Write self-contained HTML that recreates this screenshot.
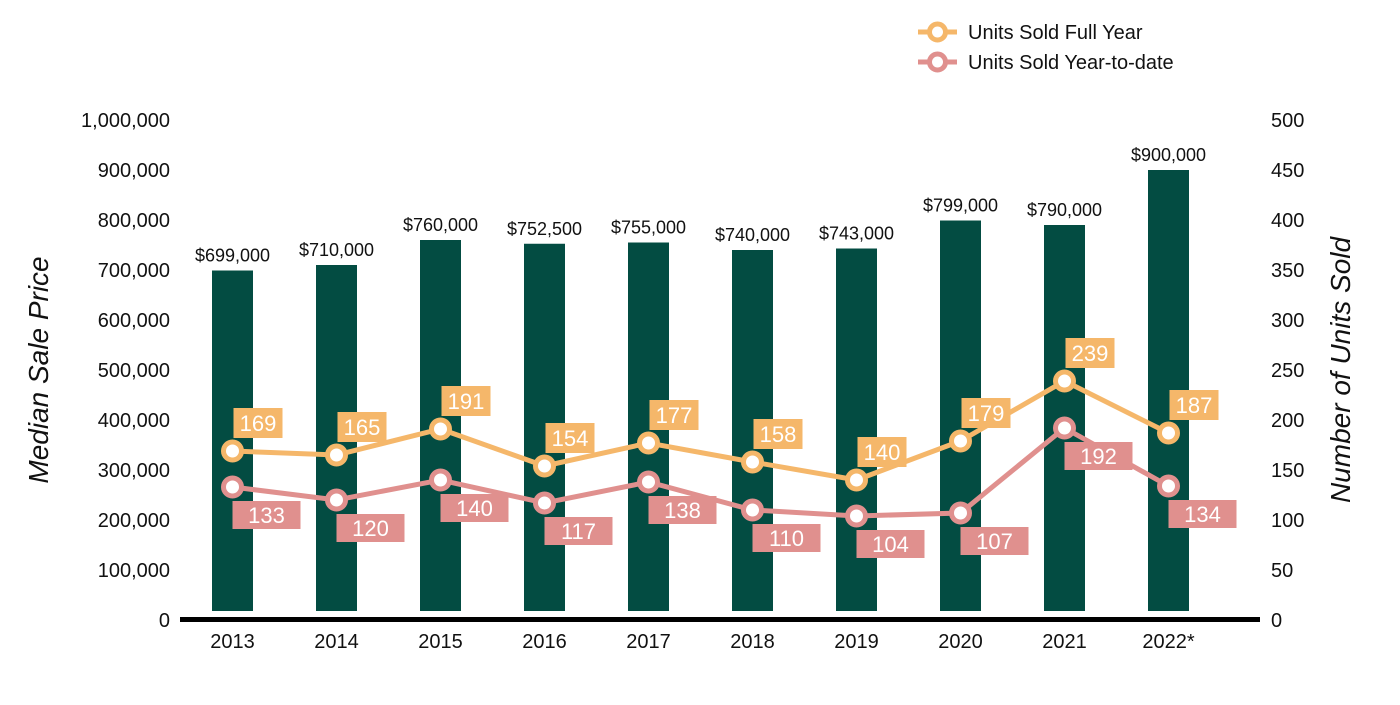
<!DOCTYPE html>
<html><head><meta charset="utf-8"><style>
body{margin:0;background:#fff}
svg{font-family:"Liberation Sans",Arial,sans-serif}
</style></head><body>
<svg id="c" width="1400" height="700" viewBox="0 0 1400 700">
<g id="g"></g>
</svg>
<script>
const categories=["2013","2014","2015","2016","2017","2018","2019","2020","2021","2022*"];
const prices=[699000,710000,760000,752500,755000,740000,743000,799000,790000,900000];
const priceLabels=["$699,000","$710,000","$760,000","$752,500","$755,000","$740,000","$743,000","$799,000","$790,000","$900,000"];
const fullYear=[169,165,191,154,177,158,140,179,239,187];
const ytd=[133,120,140,117,138,110,104,107,192,134];
const leftTicks=[0,100000,200000,300000,400000,500000,600000,700000,800000,900000,1000000];
const rightTicks=[0,50,100,150,200,250,300,350,400,450,500];
const NS="http://www.w3.org/2000/svg";
const g=document.getElementById('g');
function el(t,a,txt){const e=document.createElementNS(NS,t);for(const k in a)e.setAttribute(k,a[k]);if(txt!==undefined)e.textContent=txt;g.appendChild(e);return e;}
const y0=620,yTop=120;
const yL=v=>y0-(v/1000000)*(y0-yTop);
const yR=v=>y0-(v/500)*(y0-yTop);
const xC=i=>232.5+i*104;
const fmt=v=>v.toLocaleString('en-US');
leftTicks.forEach(v=>{const t=el('text',{x:170,y:yL(v)+7,'text-anchor':'end','font-size':20,fill:'#111'},fmt(v));

});
rightTicks.forEach(v=>{const t=el('text',{x:1271,y:yR(v)+7,'font-size':20,fill:'#111'},String(v));

});
let t=el('text',{x:0,y:0,transform:'translate(48,370) rotate(-90)','text-anchor':'middle','font-size':28,'font-style':'italic',fill:'#111'},'Median Sale Price');


t=el('text',{x:0,y:0,transform:'translate(1350,370) rotate(-90)','text-anchor':'middle','font-size':28,'font-style':'italic',fill:'#111'},'Number of Units Sold');


categories.forEach((c,i)=>{
 const b=el('rect',{x:xC(i)-20.5,y:yL(prices[i]),width:41,height:611-yL(prices[i]),fill:'#034C42'});
 
 
 const l=el('text',{x:xC(i),y:yL(prices[i])-9,'text-anchor':'middle','font-size':18,fill:'#111'},priceLabels[i]);
 
 
 const x=el('text',{x:xC(i),y:648,'text-anchor':'middle','font-size':20,fill:'#111'},c);
 
 
});
const ax=el('rect',{x:180,y:617,width:1080,height:5,fill:'#000'});


function series(vals,color,name,lblFn){
 const p=el('polyline',{points:vals.map((v,i)=>xC(i)+','+yR(v)).join(' '),fill:'none',stroke:color,'stroke-width':5});
 
 
 vals.forEach((v,i)=>{
  const c=el('circle',{cx:xC(i),cy:yR(v),r:9,fill:'#fff',stroke:color,'stroke-width':5});
  
  
 });
 vals.forEach((v,i)=>{
  const r=lblFn(xC(i),yR(v));
  const bx=el('rect',{x:r[0],y:r[1],width:r[2],height:r[3],fill:color});
  
  
  const tx=el('text',{x:r[0]+r[2]/2,y:r[1]+r[3]/2+8,'text-anchor':'middle','font-size':22,fill:'#fff'},String(v));
  
  
 });
}
series(fullYear,'#F5B76A','full-year',(x,y)=>[x+1,y-43,49,30]);
series(ytd,'#E0908E','ytd',(x,y)=>[x,y+14,68,28]);
[['Units Sold Full Year','#F5B76A',32,'legend-full-year'],['Units Sold Year-to-date','#E0908E',62,'legend-ytd']].forEach(d=>{
 const l=el('line',{x1:918,x2:957,y1:d[2],y2:d[2],stroke:d[1],'stroke-width':5});
 
 
 const c=el('circle',{cx:937.5,cy:d[2],r:8,fill:'#fff',stroke:d[1],'stroke-width':5});
 
 
 const tx=el('text',{x:968,y:d[2]+7,'font-size':20,fill:'#111'},d[0]);
 
 
});
</script>
</body></html>
